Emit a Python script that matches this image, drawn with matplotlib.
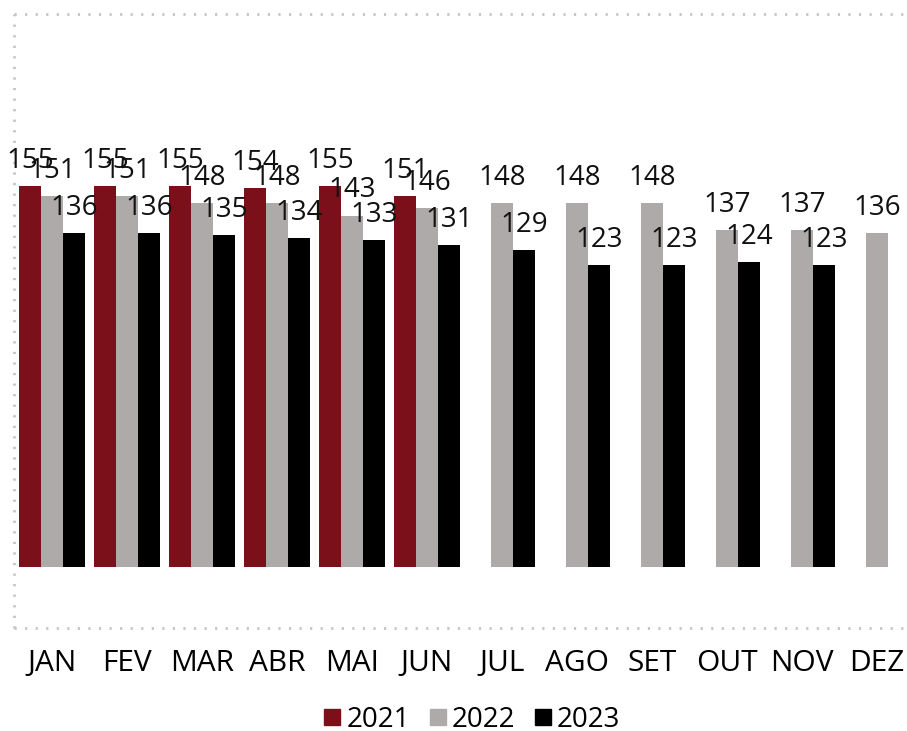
import numpy as np
import matplotlib
matplotlib.use("Agg")
import matplotlib.pyplot as plt
from matplotlib.lines import Line2D

MONTHS = ["JAN", "FEV", "MAR", "ABR", "MAI", "JUN", "JUL", "AGO", "SET", "OUT", "NOV", "DEZ"]
Y2021 = [155, 155, 155, 154, 155, 151, None, None, None, None, None, None]
Y2022 = [151, 151, 148, 148, 143, 146, 148, 148, 148, 137, 137, 136]
Y2023 = [136, 136, 135, 134, 133, 131, 129, 123, 123, 124, 123, None]
YEARS = ["2021", "2022", "2023"]
COLORS = ["#7b101b", "#adaaa9", "#000000"]

plt.rcParams["font.family"] = ["Open Sans", "DejaVu Sans"]

fig = plt.figure(figsize=(9.07, 7.31), dpi=100)
# axes box matches the dotted frame (px 14..907 x, 14..628 y)
ax = fig.add_axes([14 / 907, 1 - 628 / 731, 1 - 14 / 907, (628 - 14) / 731])

x = np.arange(len(MONTHS))
w = 22 / 75
for k, (vals, col) in enumerate(zip([Y2021, Y2022, Y2023], COLORS)):
    off = (k - 1) * w
    for i, v in enumerate(vals):
        if v is None:
            continue
        ax.bar(x[i] + off, v, width=w, color=col, edgecolor="none")
        ax.annotate(str(v), (x[i] + off, v), xytext=(0, 13), textcoords="offset points",
                    ha="center", va="baseline", fontsize=20, color="#111")

ax.set_xlim(-38 / 75, (907 - 52) / 75)
ax.set_ylim(-61 / 2.458, 553 / 2.458)
ax.set_yticks([])
ax.set_xticks(x)
ax.set_xticklabels(MONTHS, fontsize=21.5)
ax.tick_params(axis="x", length=0, pad=15)
for s in ["left", "top", "bottom"]:
    sp = ax.spines[s]
    sp.set_linestyle((0, (0.8, 3)))
    sp.set_color("#c4c4c4")
    sp.set_linewidth(2)
    sp.set_capstyle("butt")
ax.spines["right"].set_visible(False)

handles = [Line2D([], [], marker="s", ls="none", color=c, markersize=11) for c in COLORS]
fig.legend(handles, YEARS, loc="center", bbox_to_anchor=(470 / 907, 1 - 720 / 731), ncol=3,
           frameon=False, fontsize=20, handletextpad=0.05, columnspacing=0.55, handlelength=0.9)

fig.savefig("out.png", dpi=100)
